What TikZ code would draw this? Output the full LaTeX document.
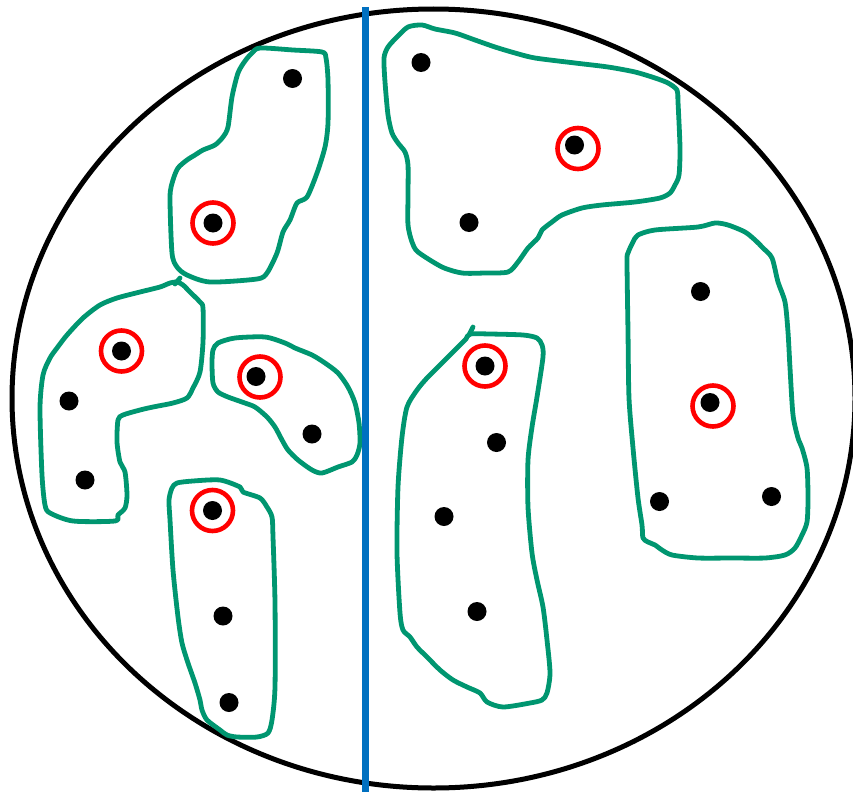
\documentclass[tikz,border=0pt]{standalone}
\definecolor{blobgreen}{RGB}{0,150,112}
\definecolor{ringred}{RGB}{255,0,0}
\definecolor{axisblue}{RGB}{0,112,192}
\tikzset{
  blob/.style={draw=blobgreen, line width=4.8pt, line join=round, line cap=round},
  dot/.style={circle, fill=black, inner sep=0pt, minimum size=19pt},
  ring/.style={circle, draw=ringred, line width=4.6pt, inner sep=0pt, minimum size=41pt},
}
\begin{document}
\begin{tikzpicture}[x=1pt,y=-1pt]
\useasboundingbox (0,0) rectangle (853,792);
\clip (0,0) rectangle (853,792);
% outer ellipse
\draw[line width=5pt] (433.5,398.5) ellipse [x radius=421.5, y radius=389.5];
% blobs
\draw[blob] plot[smooth cycle, tension=0.45] coordinates {
 (260,48) (293,50) (322,52) (326,58) (328,80) (328,123) (325,147) (317,173) (307,197) (297,203)
 (290,220) (283,232) (277,253) (267,273) (257,279) (210,282) (187,275) (177,267) (172,253)
 (170,197) (173,180) (178,168) (187,160) (195,155) (203,150) (215,145) (223,137) (228,127)
 (232,97) (238,73) (245,61) (252,53)};
\draw[blob] plot[smooth cycle, tension=0.45] coordinates {
 (177,282) (183,285) (190,292) (200,302) (203,308) (203,342) (200,372) (193,388) (187,398)
 (173,403) (153,407) (140,410) (123,415) (118,420) (117,442) (120,462) (125,472) (127,495)
 (125,508) (118,515) (115,521) (73,521) (50,513) (45,505) (42,475) (40,408) (43,375) (50,358)
 (57,348) (67,335) (83,318) (100,305) (117,298) (140,292) (160,287) (170,283)};
\draw[blob] (175,284) -- (180,278);
\draw[blob] plot[smooth cycle, tension=0.45] coordinates {
 (218,343) (235,338) (265,337) (285,343) (295,348) (312,355) (325,363) (338,373) (348,387)
 (355,403) (359,423) (360,443) (357,455) (352,462) (338,467) (322,473) (312,470) (298,460)
 (288,450) (282,440) (275,427) (267,417) (255,407) (242,402) (228,397) (218,392) (213,383)
 (212,363) (213,350)};
\draw[blob] plot[smooth cycle, tension=0.45] coordinates {
 (177,483) (193,481) (220,480) (240,487) (243,492) (260,498) (267,507) (272,517) (273,537)
 (275,603) (275,687) (272,720) (268,733) (257,737) (237,737) (227,735) (220,730) (207,720)
 (202,710) (200,700) (195,683) (188,663) (182,643) (178,617) (173,570) (170,520) (169,500)
 (172,488)};
\draw[blob] plot[smooth cycle, tension=0.45] coordinates {
 (408,27) (422,25) (435,29) (455,33) (475,40) (495,47) (515,53) (535,58) (575,63) (608,67)
 (635,72) (655,78) (668,83) (677,90) (678,102) (680,148) (679,175) (675,185) (670,193)
 (660,198) (635,202) (602,205) (582,208) (562,215) (552,222) (542,230) (538,238) (528,248)
 (518,262) (508,272) (485,273) (462,273) (442,267) (418,252) (412,242) (408,225) (408,195)
 (408,165) (405,152) (398,143) (392,133) (388,115) (385,82) (384,58) (388,47) (397,37)};
\draw[blob] plot[smooth cycle, tension=0.45] coordinates {
 (470,334) (490,334) (523,335) (537,338) (542,345) (543,357) (537,397) (532,427) (528,460)
 (528,507) (532,553) (537,580) (543,607) (547,640) (550,673) (547,693) (542,700) (530,703)
 (503,707) (487,702) (480,693) (467,687) (453,680) (440,670) (427,657) (417,647) (410,637)
 (403,630) (400,613) (397,553) (398,487) (402,437) (407,407) (417,390) (427,378) (438,367)
 (448,357) (458,347) (466,339)};
\draw[blob] (469,335) -- (473,327);
\draw[blob] plot[smooth cycle, tension=0.45] coordinates {
 (638,235) (655,230) (698,227) (715,223) (728,225) (745,232) (755,240) (763,248) (772,258)
 (778,282) (785,302) (788,332) (790,368) (793,415) (798,438) (802,448) (807,468) (808,498)
 (807,522) (802,535) (795,548) (785,555) (765,558) (732,558) (698,558) (672,555) (662,550)
 (655,545) (648,542) (643,538) (642,525) (638,498) (633,448) (629,398) (628,332) (627,262)
 (628,253) (633,242)};
% vertical divider
\coordinate (vtop) at (365,7);
\coordinate (vbot) at (365,792);
\draw[axisblue, line width=7pt] (vtop) -- (vbot);
% points
\node[ring] (r1) at (213,223) {};
\node[dot] (p1) at (213,223) {};
\node[dot] (p2) at (292.5,78.5) {};
\node[ring] (r2) at (121.5,351) {};
\node[dot] (p3) at (121.5,351) {};
\node[dot] (p4) at (69,401) {};
\node[dot] (p5) at (85,480) {};
\node[ring] (r3) at (260,377) {};
\node[dot] (p6) at (256,376.5) {};
\node[dot] (p7) at (312,434) {};
\node[ring] (r4) at (212.5,510.5) {};
\node[dot] (p8) at (212.5,510.5) {};
\node[dot] (p9) at (223,616) {};
\node[dot] (p10) at (229,702.5) {};
\node[dot] (p11) at (421,62.5) {};
\node[ring] (r5) at (578,148.5) {};
\node[dot] (p12) at (574.5,145) {};
\node[dot] (p13) at (469,222.5) {};
\node[ring] (r6) at (485,366) {};
\node[dot] (p14) at (485,366) {};
\node[dot] (p15) at (496.5,442.5) {};
\node[dot] (p16) at (444,516.5) {};
\node[dot] (p17) at (477,611.5) {};
\node[dot] (p18) at (700.5,291.5) {};
\node[ring] (r7) at (713,406) {};
\node[dot] (p19) at (710,402.5) {};
\node[dot] (p20) at (659.5,501.5) {};
\node[dot] (p21) at (771.5,496.5) {};
\end{tikzpicture}
\end{document}
